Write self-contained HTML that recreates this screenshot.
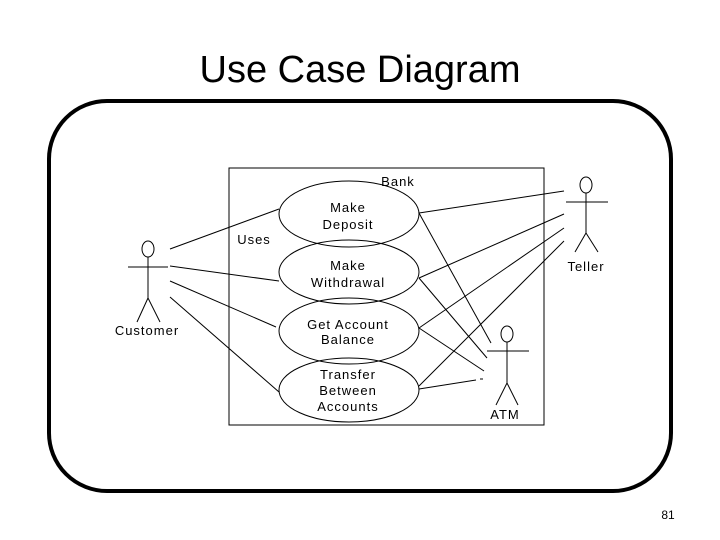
<!DOCTYPE html>
<html><head><meta charset="utf-8"><style>
html,body{margin:0;padding:0;background:#fff;width:720px;height:540px;overflow:hidden}
</style></head><body>
<svg width="720" height="540" viewBox="0 0 720 540" xmlns="http://www.w3.org/2000/svg">
<text x="360" y="82" text-anchor="middle" font-family="Liberation Sans, sans-serif" font-size="38" fill="#000">Use Case Diagram</text>
<rect x="49" y="101" width="622" height="390" rx="58" ry="58" fill="none" stroke="#000" stroke-width="4"/>
<rect x="229" y="168" width="315" height="257" fill="none" stroke="#000" stroke-width="1"/>
<g font-family="Liberation Sans, sans-serif" font-size="13" fill="#000" text-anchor="middle" letter-spacing="1">
<text x="398" y="186">Bank</text>
<text x="254" y="244">Uses</text>
<text x="348" y="212">Make</text><text x="348" y="229">Deposit</text>
<text x="348" y="270">Make</text><text x="348" y="287">Withdrawal</text>
<text x="348" y="329">Get Account</text><text x="348" y="344">Balance</text>
<text x="348" y="379">Transfer</text><text x="348" y="395">Between</text><text x="348" y="411">Accounts</text>
<text x="147" y="335">Customer</text>
<text x="586" y="271">Teller</text>
<text x="505" y="419">ATM</text>
</g>
<g fill="none" stroke="#000" stroke-width="1">
<ellipse cx="349" cy="214" rx="70" ry="33"/>
<ellipse cx="349" cy="272" rx="70" ry="32"/>
<ellipse cx="349" cy="331" rx="70" ry="33"/>
<ellipse cx="349" cy="390" rx="70" ry="32"/>
<ellipse cx="148" cy="249" rx="6" ry="8"/>
<line x1="128" y1="267" x2="168" y2="267"/><line x1="148" y1="257" x2="148" y2="298"/>
<line x1="148" y1="298" x2="137" y2="322"/><line x1="148" y1="298" x2="160" y2="322"/>
<ellipse cx="586" cy="185" rx="6" ry="8"/>
<line x1="566" y1="202" x2="608" y2="202"/><line x1="586" y1="193" x2="586" y2="233"/>
<line x1="586" y1="233" x2="575" y2="252"/><line x1="586" y1="233" x2="598" y2="252"/>
<ellipse cx="507" cy="334" rx="6" ry="8"/>
<line x1="487" y1="351" x2="529" y2="351"/><line x1="507" y1="342" x2="507" y2="383"/>
<line x1="507" y1="383" x2="496" y2="405"/><line x1="507" y1="383" x2="518" y2="405"/>
<line x1="170" y1="249" x2="279" y2="209"/>
<line x1="170" y1="266" x2="279" y2="281"/>
<line x1="170" y1="281" x2="276" y2="327"/>
<line x1="170" y1="297" x2="279" y2="392"/>
<line x1="419" y1="213" x2="564" y2="191"/>
<line x1="419" y1="213" x2="491" y2="343"/>
<line x1="419" y1="278" x2="564" y2="214"/>
<line x1="419" y1="278" x2="487" y2="358"/>
<line x1="419" y1="328" x2="564" y2="228"/>
<line x1="419" y1="328" x2="484" y2="371"/>
<line x1="419" y1="386" x2="564" y2="241"/>
<line x1="419" y1="389" x2="476" y2="380"/>
<line x1="480" y1="379" x2="483" y2="379"/>
</g>
<text x="668" y="519" text-anchor="middle" font-family="Liberation Sans, sans-serif" font-size="12" fill="#000">81</text>
</svg>
</body></html>
